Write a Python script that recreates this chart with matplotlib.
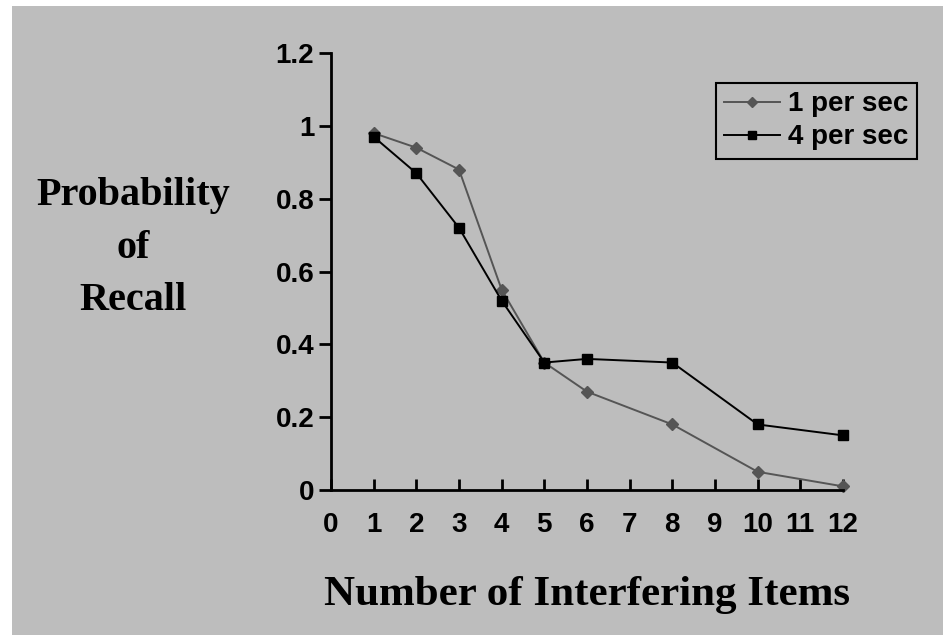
import matplotlib.pyplot as plt
from matplotlib.patches import Rectangle

items = [1, 2, 3, 4, 5, 6, 8, 10, 12]
one_per_sec = [0.98, 0.94, 0.88, 0.55, 0.35, 0.27, 0.18, 0.05, 0.01]
four_per_sec = [0.97, 0.87, 0.72, 0.52, 0.35, 0.36, 0.35, 0.18, 0.15]
xticks = list(range(0, 13))
yticks = [0, 0.2, 0.4, 0.6, 0.8, 1, 1.2]
ytick_labels = ['0', '0.2', '0.4', '0.6', '0.8', '1', '1.2']

bg = '#bdbdbd'
W, H = 943, 635

fig = plt.figure(figsize=(9.43, 6.35), dpi=100)
fig.patch.set_facecolor('white')
# gray panel with a thin white margin at top/left
fig.patches.append(Rectangle((12 / W, 0), 1 - 12 / W, 1 - 6 / H,
                             transform=fig.transFigure, facecolor=bg,
                             edgecolor='none', zorder=-10))

ax = fig.add_axes([331 / W, 1 - 490 / H, (843 - 331) / W, (490 - 53) / H])
ax.set_facecolor('none')

ax.plot(items, one_per_sec, color='#555555', lw=1.4, marker='D', ms=6,
        label='1 per sec', clip_on=False)
ax.plot(items, four_per_sec, color='black', lw=1.4, marker='s', ms=7,
        label='4 per sec', clip_on=False)

ax.set_xlim(0, 12)
ax.set_ylim(0, 1.2)
ax.set_xticks(xticks)
ax.set_xticklabels([str(t) for t in xticks])
ax.set_yticks(yticks)
ax.set_yticklabels(ytick_labels)

for s in ['top', 'right']:
    ax.spines[s].set_visible(False)
for s in ['left', 'bottom']:
    ax.spines[s].set_linewidth(2)
    ax.spines[s].set_color('black')

ax.tick_params(axis='x', direction='in', length=8, width=2, pad=16,
               labelsize=20)
ax.tick_params(axis='y', direction='out', length=9, width=2, pad=3,
               labelsize=20)
for lab in ax.get_xticklabels() + ax.get_yticklabels():
    lab.set_fontfamily('Liberation Sans')
    lab.set_fontweight('bold')

ax.set_xlabel('Number of Interfering Items', family='Liberation Serif',
              fontweight='bold', fontsize=31, labelpad=27)

fig.text(133 / W, 1 - 248 / H, 'Probability\nof\nRecall', ha='center',
         va='center', family='Liberation Serif', fontweight='bold',
         fontsize=29, linespacing=1.55)

leg = ax.legend(loc='upper left', bbox_to_anchor=((716 - 331) / (843 - 331), (490 - 83) / (490 - 53)),
                frameon=True, fancybox=False, framealpha=1,
                prop={'family': 'Liberation Sans', 'weight': 'bold', 'size': 20},
                handlelength=2.0, handletextpad=0.3, borderpad=0.3,
                labelspacing=0.25, borderaxespad=0, markerscale=0.8)
leg.get_frame().set_facecolor(bg)
leg.get_frame().set_edgecolor('black')
leg.get_frame().set_linewidth(1.5)

fig.savefig('out.png', dpi=100, facecolor='white')
